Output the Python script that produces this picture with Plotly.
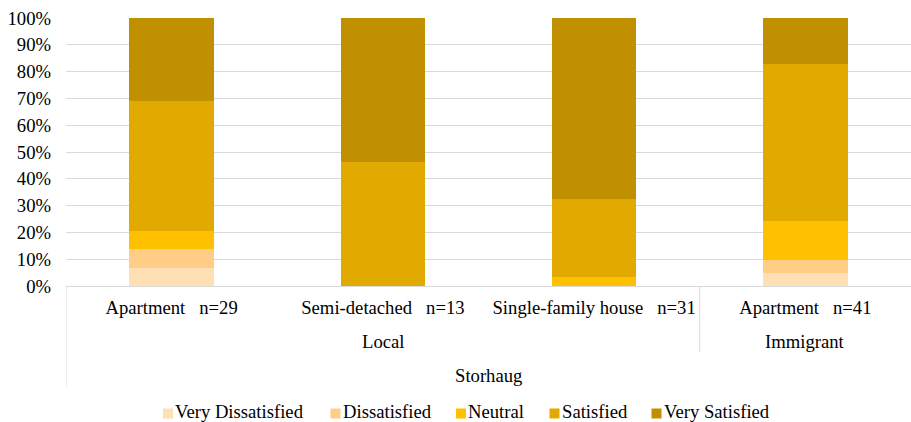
import plotly.graph_objects as go

# Survey data: share of respondents per satisfaction level
housing = ["Apartment", "Semi-detached", "Single-family house", "Apartment"]
n_resp = [29, 13, 31, 41]
groups = ["Local", "Local", "Local", "Immigrant"]
area = "Storhaug"

levels = ["Very Dissatisfied", "Dissatisfied", "Neutral", "Satisfied", "Very Satisfied"]
very_dissatisfied = [0.069, 0.0, 0.0, 0.049]
dissatisfied = [0.069, 0.0, 0.0, 0.049]
neutral = [0.069, 0.0, 0.032, 0.146]
satisfied = [0.483, 0.462, 0.291, 0.585]
very_satisfied = [0.310, 0.538, 0.677, 0.171]
series = [very_dissatisfied, dissatisfied, neutral, satisfied, very_satisfied]

colors = ["#FFDFB4", "#FFCD85", "#FFC000", "#E2A900", "#C09000"]

W, H = 911, 422
M_L, M_R, M_T, M_B = 66, 0, 18, 136
PW, PH = W - M_L - M_R, H - M_T - M_B

FONT = "Liberation Serif, Times New Roman, serif"
FS = 18.67
TXT = "#000000"

cats = list(range(len(housing)))
nb = "\u00a0"
tick_text = [f"{h}{nb*3}n={n}" for h, n in zip(housing, n_resp)]

fig = go.Figure()
for name, vals, col in zip(levels, series, colors):
    fig.add_trace(go.Bar(
        x=cats, y=vals, name=name, marker=dict(color=col, line=dict(width=0)),
        showlegend=False,
    ))


def px_x(px):
    return (px - M_L) / PW


def px_y(py):
    return (H - M_B - py) / PH


shapes = []
annotations = []

# group labels (second level) centred under their categories
group_spans = []
for i, g in enumerate(groups):
    if group_spans and group_spans[-1][0] == g:
        group_spans[-1][2] = i
    else:
        group_spans.append([g, i, i])
for g, i0, i1 in group_spans:
    annotations.append(dict(
        x=(i0 + i1) / 2, xref="x", y=px_y(341.5), yref="paper", text=g,
        showarrow=False, font=dict(family=FONT, size=FS, color=TXT),
        xanchor="center", yanchor="middle",
    ))
# separators between groups
for g, i0, i1 in group_spans[1:]:
    shapes.append(dict(
        type="line", xref="x", yref="paper", x0=i0 - 0.5, x1=i0 - 0.5,
        y0=0, y1=px_y(352), line=dict(color="#D9D9D9", width=1),
    ))
# outer left border of the category axis
shapes.append(dict(
    type="line", xref="x", yref="paper", x0=-0.5, x1=-0.5,
    y0=0, y1=px_y(387), line=dict(color="#D9D9D9", width=1),
))
# top level label
annotations.append(dict(
    x=0.5, xref="paper", y=px_y(375.5), yref="paper", text=area,
    showarrow=False, font=dict(family=FONT, size=FS, color=TXT),
    xanchor="center", yanchor="middle",
))

# legend row
legend_left = [163, 330.5, 456, 549.5, 651.5]
for name, col, lx in zip(levels, colors, legend_left):
    shapes.append(dict(
        type="rect", xref="paper", yref="paper",
        x0=px_x(lx), x1=px_x(lx + 10), y0=px_y(418.5), y1=px_y(408.5),
        fillcolor=col, line=dict(width=0),
    ))
    annotations.append(dict(
        x=px_x(lx + 13), xref="paper", y=px_y(411), yref="paper", text=name,
        showarrow=False, font=dict(family=FONT, size=FS, color=TXT),
        xanchor="left", yanchor="middle", xshift=-3,
    ))

fig.update_layout(
    barmode="stack",
    bargap=0.6,
    width=W, height=H,
    margin=dict(l=M_L, r=M_R, t=M_T, b=M_B, pad=0),
    paper_bgcolor="white", plot_bgcolor="white",
    font=dict(family=FONT, size=FS, color=TXT),
    shapes=shapes, annotations=annotations,
    xaxis=dict(
        tickmode="array", tickvals=cats, ticktext=tick_text,
        range=[-0.5, len(cats) - 0.5], showgrid=False,
        showline=True, linecolor="#D9D9D9", linewidth=1,
        ticks="", ticklabelstandoff=5, zeroline=False,
        tickfont=dict(family=FONT, size=FS, color=TXT),
        fixedrange=True,
    ),
    yaxis=dict(
        range=[0, 1], tickformat=".0%", dtick=0.1, tick0=0,
        showgrid=True, gridcolor="#D9D9D9", gridwidth=1,
        zeroline=False, showline=False, ticks="",
        ticklabelstandoff=14,
        tickfont=dict(family=FONT, size=FS, color=TXT),
        fixedrange=True,
    ),
)

fig.write_html("out.html", config={"displayModeBar": False})
